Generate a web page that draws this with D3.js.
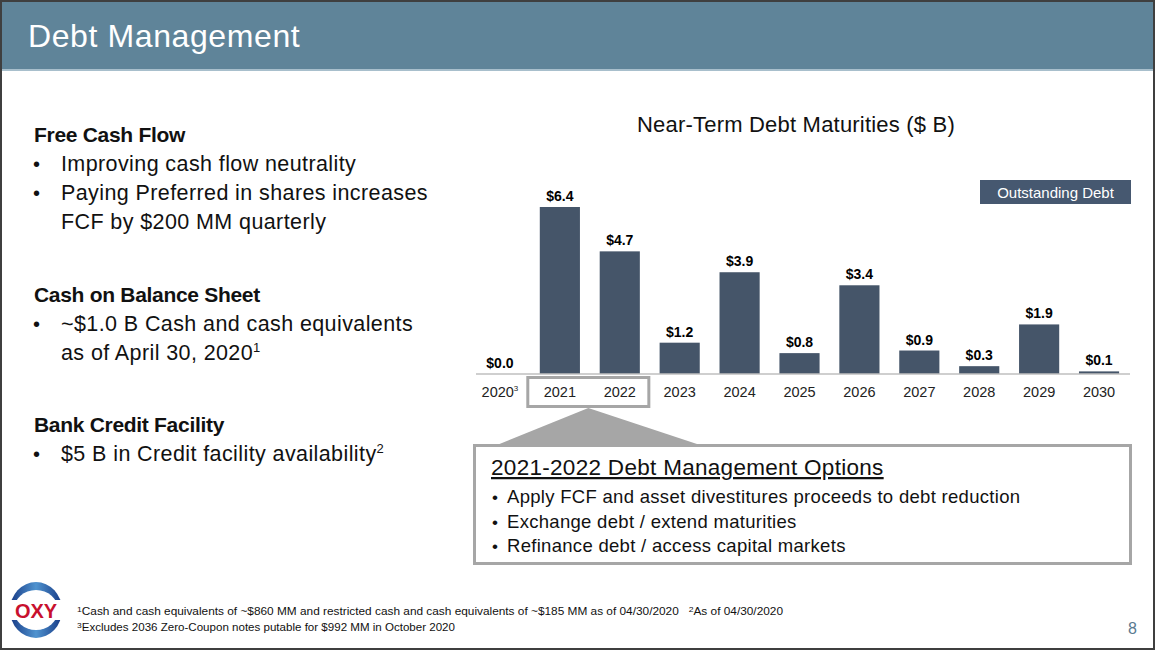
<!DOCTYPE html>
<html><head><meta charset="utf-8">
<script src="https://cdn.jsdelivr.net/npm/d3@7"></script>
<style>
html,body{margin:0;padding:0;background:#fff;}
svg{display:block;}
text{font-family:"Liberation Sans",Arial,sans-serif;}
.narrow{font-family:"Liberation Sans Narrow","Liberation Sans",Arial,sans-serif;}
</style></head>
<body>
<svg id="c" width="1155" height="650"></svg>
<script>
const years = ['2020','2021','2022','2023','2024','2025','2026','2027','2028','2029','2030'];
const values = [0.0,6.4,4.7,1.2,3.9,0.8,3.4,0.9,0.3,1.9,0.1];
const valueLabels = ['$0.0','$6.4','$4.7','$1.2','$3.9','$0.8','$3.4','$0.9','$0.3','$1.9','$0.1'];
const yearSup = ['3','','','','','','','','','',''];
const highlighted = ['2021','2022'];
const chartTitle = 'Near-Term Debt Maturities ($ B)';
const legendLabel = 'Outstanding Debt';
const calloutTitle = '2021-2022 Debt Management Options';
const calloutBullets = ['Apply FCF and asset divestitures proceeds to debt reduction','Exchange debt / extend maturities','Refinance debt / access capital markets'];

const svg = d3.select('#c');
// header
svg.append('rect').attr('x',0).attr('y',0).attr('width',1155).attr('height',70).attr('fill','#5f8499');
svg.append('rect').attr('x',0).attr('y',69).attr('width',1155).attr('height',2).attr('fill','#a8bfcc');
svg.append('text').attr('x',28).attr('y',47).attr('fill','#fff').attr('font-size',32).attr('letter-spacing','0.6').text('Debt Management');

// left text
const left = svg.append('g').attr('fill','#111');
function heading(t,y){left.append('text').attr('x',34).attr('y',y).attr('font-size',21).attr('font-weight','bold').attr('letter-spacing','-0.3').text(t);}
function bullet(y){left.append('text').attr('x',33).attr('y',y).attr('font-size',20).text('•');}
function line(t,y,sup){const tt=left.append('text').attr('x',61).attr('y',y).attr('font-size',21.5).attr('letter-spacing','0.4').text(t);
  if(sup){tt.append('tspan').attr('font-size',13).attr('dy',-8).text(sup);} }
heading('Free Cash Flow',142);
bullet(171); line('Improving cash flow neutrality',171);
bullet(200); line('Paying Preferred in shares increases',200);
line('FCF by $200 MM quarterly',229);
heading('Cash on Balance Sheet',302);
bullet(331); line('~$1.0 B Cash and cash equivalents',331);
line('as of April 30, 2020',360,'1');
heading('Bank Credit Facility',432);
bullet(461); line('$5 B in Credit facility availability',461,'2');

// chart
const x = d3.scaleBand().domain(years).range([470,1129]).paddingInner(0.33).paddingOuter(0.165);
const y = d3.scaleLinear().domain([0,6.4]).range([374,207]);
const g = svg.append('g');
g.append('text').attr('x',796).attr('y',132).attr('text-anchor','middle').attr('font-size',22).attr('letter-spacing','0.2').attr('fill','#111').text(chartTitle);

g.selectAll('rect.bar').data(years).join('rect').attr('class','bar')
  .attr('x',d=>x(d)).attr('width',x.bandwidth())
  .attr('y',(d,i)=>y(values[i])).attr('height',(d,i)=>y(0)-y(values[i]))
  .attr('fill','#455569');
g.selectAll('text.val').data(years).join('text').attr('class','val narrow')
  .attr('x',d=>x(d)+x.bandwidth()/2).attr('y',(d,i)=>y(values[i])-6)
  .attr('text-anchor','middle').attr('font-size',14).attr('font-weight','bold').attr('fill','#000')
  .text((d,i)=>valueLabels[i]);

// axis
const axis = g.append('g').attr('transform',`translate(0,${y(0)})`).call(d3.axisBottom(x).tickSize(0).tickPadding(0));
axis.select('.domain').attr('d','M476,0H1130').attr('stroke','#bfbfbf').attr('stroke-width',1.5);
axis.selectAll('.tick text').attr('class','narrow').attr('font-size',14.5).attr('fill','#222').attr('dy',null).attr('y',23)
  .each(function(d,i){ if(yearSup[i]){ d3.select(this).append('tspan').attr('font-size',8).attr('dy',-6).text(yearSup[i]); } });

// legend
g.append('rect').attr('x',980).attr('y',180).attr('width',151).attr('height',24).attr('fill','#465870');
g.append('text').attr('x',1055.5).attr('y',197.5).attr('text-anchor','middle').attr('font-size',15).attr('fill','#fff').attr('class','narrow').text(legendLabel);

// highlight box
const hx0 = x(highlighted[0]) - 12, hx1 = x(highlighted[1]) + x.bandwidth() + 9;
g.append('rect').attr('x',hx0).attr('y',377.5).attr('width',hx1-hx0).attr('height',29).attr('fill','none').attr('stroke','#a6a6a6').attr('stroke-width',3);
const apex = (hx0+hx1)/2;
g.append('path').attr('d',`M${apex},408L700,445L497,445Z`).attr('fill','#a6a6a6');

// callout
g.append('rect').attr('x',474.5).attr('y',445.5).attr('width',656).attr('height',118).attr('fill','#fff').attr('stroke','#a6a6a6').attr('stroke-width',3);
g.append('text').attr('x',491).attr('y',475).attr('font-size',22.5).attr('letter-spacing','0.3').attr('fill','#111').attr('text-decoration','underline').text(calloutTitle);
calloutBullets.forEach((b,i)=>{
  g.append('text').attr('x',492).attr('y',503+i*24.5).attr('font-size',17).attr('fill','#111').text('•');
  g.append('text').attr('x',507).attr('y',503+i*24.5).attr('font-size',18.5).attr('letter-spacing','0.3').attr('fill','#111').text(b);
});

// logo
const logo = svg.append('g');
const grad = svg.append('defs').append('linearGradient').attr('id','lg').attr('x1',0).attr('x2',1).attr('y1',0).attr('y2',0);
grad.append('stop').attr('offset','0%').attr('stop-color','#173a86');
grad.append('stop').attr('offset','50%').attr('stop-color','#4f93cf');
grad.append('stop').attr('offset','100%').attr('stop-color','#173a86');
logo.append('ellipse').attr('cx',36).attr('cy',610).attr('rx',26).attr('ry',28).attr('fill','url(#lg)');
logo.append('ellipse').attr('cx',36).attr('cy',610).attr('rx',22).attr('ry',20).attr('fill','#fff');
logo.append('rect').attr('x',7).attr('y',600).attr('width',59).attr('height',20).attr('fill','#fff');
logo.append('text').attr('x',36).attr('y',617.5).attr('text-anchor','middle').attr('font-size',20).attr('font-weight','bold').attr('fill','#c8102e').text('OXY');

// footnotes
const f1 = svg.append('text').attr('class','narrow').attr('x',77).attr('y',615).attr('font-size',11).attr('fill','#111')
  .attr('textLength',706).attr('lengthAdjust','spacingAndGlyphs');
f1.append('tspan').attr('font-size',8).attr('dy',-3).text('1');
f1.append('tspan').attr('dy',3).text('Cash and cash equivalents of ~$860 MM and restricted cash and cash equivalents of ~$185 MM as of 04/30/2020\u00a0\u00a0\u00a0');
f1.append('tspan').attr('font-size',8).attr('dy',-3).text('2');
f1.append('tspan').attr('dy',3).text('As of 04/30/2020');
const f2 = svg.append('text').attr('class','narrow').attr('x',77).attr('y',631).attr('font-size',11).attr('fill','#111')
  .attr('textLength',378).attr('lengthAdjust','spacingAndGlyphs');
f2.append('tspan').attr('font-size',8).attr('dy',-3).text('3');
f2.append('tspan').attr('dy',3).text('Excludes 2036 Zero-Coupon notes putable for $992 MM in October 2020');

svg.append('text').attr('x',1137).attr('y',634).attr('text-anchor','end').attr('font-size',16).attr('fill','#5a7a90').text('8');

// slide border
svg.append('rect').attr('x',1).attr('y',1).attr('width',1153).attr('height',648).attr('fill','none').attr('stroke','#3f3f3f').attr('stroke-width',2);
</script>
</body></html>
